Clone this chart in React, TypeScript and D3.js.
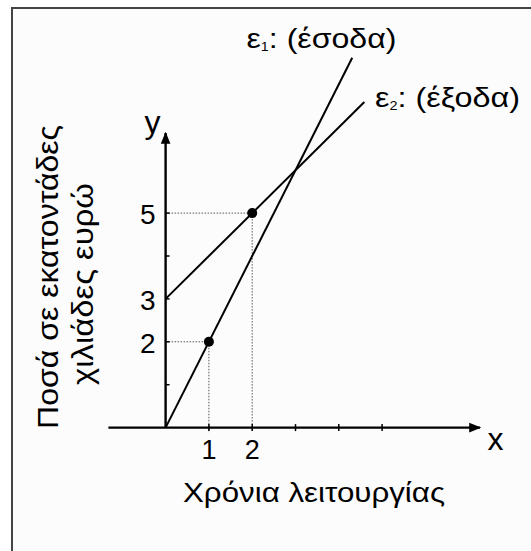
import React from 'react';
import * as d3 from 'd3';

const xTicks = [1, 2, 3, 4, 5];
const yTicks = [1, 2, 3, 4, 5];
const xLabels = [1, 2];
const yLabels = [2, 3, 5];
const incomeLine = [[0, 0], [4.31, 8.62]]; // ε1: y = 2x
const expenseLine = [[0, 3], [4.59, 7.59]]; // ε2: y = x + 3
const points = [[1, 2], [2, 5]];

const W = 531;
const H = 551;
const FONT = 'Liberation Sans, Arial, sans-serif';

export default function App() {
  const x = d3.scaleLinear().domain([0, 1]).range([165.6, 208.9]);
  const y = d3.scaleLinear().domain([0, 1]).range([427.6, 384.7]);
  const line = d3.line<number[]>().x(d => x(d[0])).y(d => y(d[1]));

  return (
    <svg width={W} height={H} style={{ position: 'absolute', left: 0, top: 0, background: '#fff' }}>
      <rect x={12} y={8} width={W + 20} height={H + 20} fill="#fcfcfc" stroke="#444" strokeWidth={2} />
      <defs>
        <marker id="arr" viewBox="0 0 10 10" refX="9" refY="5" markerWidth="5" markerHeight="5" orient="auto">
          <path d="M0,1 L10,5 L0,9 Z" fill="#000" />
        </marker>
      </defs>

      {/* dotted guides */}
      {points.map((p, i) => (
        <g key={i} stroke="#555" strokeWidth={1} strokeDasharray="1.5,1.5" fill="none">
          <line x1={x(0)} x2={x(p[0])} y1={y(p[1])} y2={y(p[1])} />
          <line x1={x(p[0])} x2={x(p[0])} y1={y(p[1])} y2={y(0) + 4.5} />
        </g>
      ))}

      {/* axes */}
      <line x1={108.4} x2={480} y1={y(0)} y2={y(0)} stroke="#000" strokeWidth={2.4} markerEnd="url(#arr)" />
      <line x1={x(0)} x2={x(0)} y1={y(0)} y2={133} stroke="#000" strokeWidth={2.4} markerEnd="url(#arr)" />
      {xTicks.map(t => (
        <line key={t} x1={x(t)} x2={x(t)} y1={y(0) - 3.5} y2={y(0) + 3.5} stroke="#000" strokeWidth={1.5} />
      ))}
      {yTicks.map(t => (
        <line key={t} x1={x(0)} x2={x(0) + 4} y1={y(t)} y2={y(t)} stroke="#000" strokeWidth={1.5} />
      ))}

      {/* lines */}
      <path d={line(incomeLine as any) || ''} stroke="#000" strokeWidth={2} fill="none" />
      <path d={line(expenseLine as any) || ''} stroke="#000" strokeWidth={2} fill="none" />
      {points.map((p, i) => (
        <circle key={i} cx={x(p[0])} cy={y(p[1])} r={5} fill="#000" />
      ))}

      <g fontFamily={FONT} fill="#000">
        {xLabels.map(t => (
          <text key={t} x={x(t)} y={y(0) + 31} fontSize={27} textAnchor="middle">{t}</text>
        ))}
        {yLabels.map(t => (
          <text key={t} x={155.5} y={y(t) + 11} fontSize={28} textAnchor="end">{t}</text>
        ))}
        <text x={152.5} y={133} fontSize={32} textAnchor="middle">y</text>
        <text x={495.5} y={450} fontSize={32} textAnchor="middle">x</text>
        <text x={183} y={502} fontSize={28} textLength={262} lengthAdjust="spacingAndGlyphs">Χρόνια λειτουργίας</text>
        <g transform="rotate(-90)">
          <text x={-429} y={58} fontSize={29} textLength={304} lengthAdjust="spacingAndGlyphs">Ποσά σε εκατοντάδες</text>
          <text x={-385} y={93} fontSize={29} textLength={202} lengthAdjust="spacingAndGlyphs">χιλιάδες ευρώ</text>
        </g>
        <text x={246.5} y={48} fontSize={27} textLength={150} lengthAdjust="spacingAndGlyphs">ε<tspan fontSize={12} dy={3}>1</tspan><tspan dy={-3}>: (έσοδα)</tspan></text>
        <text x={375} y={107} fontSize={27} textLength={145} lengthAdjust="spacingAndGlyphs">ε<tspan fontSize={12} dy={3}>2</tspan><tspan dy={-3}>: (έξοδα)</tspan></text>
      </g>
    </svg>
  );
}
